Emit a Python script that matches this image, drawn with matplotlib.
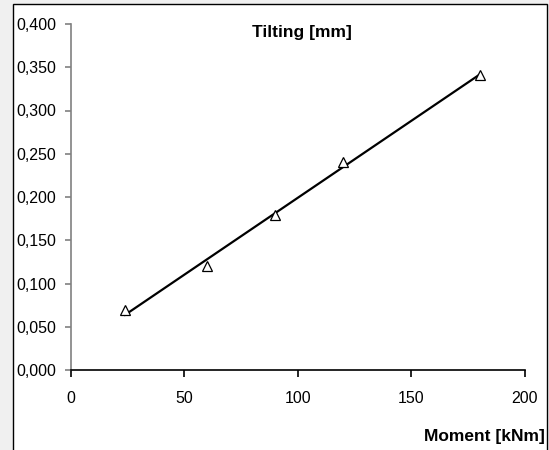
import matplotlib
matplotlib.use("Agg")
import matplotlib.pyplot as plt
from matplotlib.patches import Rectangle
import numpy as np

# Data
moment = [24, 60, 90, 120, 180]
tilting = [0.069, 0.120, 0.179, 0.240, 0.341]
xticks = [0, 50, 100, 150, 200]
xtick_labels = ["0", "50", "100", "150", "200"]
yticks = [0.0, 0.05, 0.10, 0.15, 0.20, 0.25, 0.30, 0.35, 0.40]
ytick_labels = ["0,000", "0,050", "0,100", "0,150", "0,200", "0,250", "0,300", "0,350", "0,400"]
title = "Tilting [mm]"
xlabel = "Moment [kNm]"

plt.rcParams['font.family'] = ['Liberation Sans', 'DejaVu Sans']

W, H = 549, 450
fig = plt.figure(figsize=(W / 100, H / 100), dpi=100)
fig.patch.set_facecolor('#f0f0f0')

# chart area frame
fig.patches.append(Rectangle((13 / W, -0.05), (546.5 - 13) / W, (H - 4) / H + 0.05,
                             transform=fig.transFigure, facecolor='white',
                             edgecolor='black', linewidth=1.0, zorder=-10))

L, R, T, B = 70.5, 525, 24, 370
ax = fig.add_axes([L / W, (H - B) / H, (R - L) / W, (B - T) / H])
ax.set_facecolor('none')
ax.set_zorder(5)

# trend line (linear regression of the data)
coef = np.polyfit(moment, tilting, 1)
xs = np.array([min(moment), max(moment)])
ax.plot(xs, np.polyval(coef, xs), color='black', linewidth=1.6, zorder=2)
ax.plot(moment, tilting, linestyle='none', marker='^', markersize=7,
        markerfacecolor='white', markeredgecolor='black', markeredgewidth=0.9, zorder=3)

ax.set_xlim(0, 200)
ax.set_ylim(0, 0.4)
ax.set_xticks(xticks)
ax.set_xticklabels(xtick_labels)
ax.set_yticks(yticks)
ax.set_yticklabels(ytick_labels)

for s in ['top', 'right']:
    ax.spines[s].set_visible(False)
ax.spines['left'].set_color('#808080')
ax.spines['left'].set_linewidth(1.2)
ax.spines['bottom'].set_color('black')
ax.spines['bottom'].set_linewidth(1.2)

ax.tick_params(axis='y', direction='out', length=4, width=1.2, color='#808080',
               labelsize=11.5, pad=6, labelcolor='black')
ax.tick_params(axis='x', direction='out', length=5, width=1.2, color='black',
               labelsize=11.5, pad=10, labelcolor='black')

fig.text(302 / W, 1 - 32 / H, title, ha='center', va='center',
         fontsize=12.5, fontweight='bold', zorder=6)
fig.text(545 / W, 1 - 437 / H, xlabel, ha='right', va='center',
         fontsize=12.5, fontweight='bold', zorder=6)

fig.savefig('out.png', dpi=100)
